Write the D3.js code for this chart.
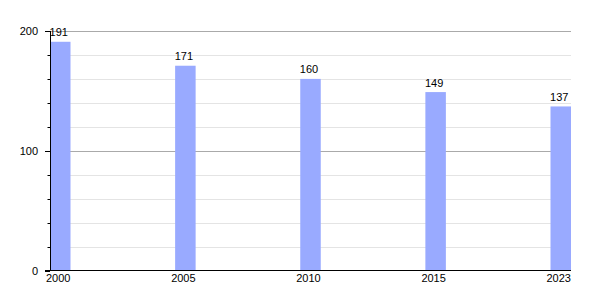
<!DOCTYPE html>
<html><head><meta charset="utf-8">
<script src="https://cdn.jsdelivr.net/npm/d3@7"></script>
<style>body{margin:0;background:#fff;} text{font-family:"Liberation Sans",Arial,sans-serif;}</style>
</head><body><svg id="c" width="600" height="300"></svg>
<script>
const years = ["2000","2005","2010","2015","2023"];
const values = [191,171,160,149,137];
const majorTicks = [0,100,200];
const minorTicks = [20,40,60,80,120,140,160,180];

const svg = d3.select("#c");
const x0 = 50, x1 = 571, yTop = 31, yBot = 270.5;
const y = d3.scaleLinear().domain([0,200]).range([yBot,yTop]);
const barW = 20.5;
const x = d3.scalePoint().domain(years).range([x0, x1 - barW]);

// minor gridlines
svg.append("g").selectAll("line").data(minorTicks).join("line")
  .attr("x1", x0).attr("x2", x1).attr("y1", d=>Math.round(y(d))+0.5).attr("y2", d=>Math.round(y(d))+0.5)
  .attr("stroke","#e4e4e4").attr("stroke-width",1);
// major gridlines
svg.append("g").selectAll("line").data([100,200]).join("line")
  .attr("x1", x0).attr("x2", x1).attr("y1", d=>Math.round(y(d))+0.5).attr("y2", d=>Math.round(y(d))+0.5)
  .attr("stroke","#aaaaaa").attr("stroke-width",1);

// bars
svg.append("g").selectAll("rect").data(values).join("rect")
  .attr("x",(d,i)=>x(years[i])).attr("width",barW)
  .attr("y",d=>y(d)).attr("height",d=>yBot-y(d))
  .attr("fill","#99aaff");

// value labels
svg.append("g").selectAll("text").data(values).join("text")
  .attr("x",(d,i)=>x(years[i])+barW/2-1.5).attr("y",d=>y(d)-5.5)
  .attr("text-anchor","middle").attr("font-size",11).attr("fill","#000").text(d=>d);

// y axis
svg.append("line").attr("x1",x0+0.5).attr("x2",x0+0.5).attr("y1",yTop).attr("y2",yBot).attr("stroke","#000");
svg.append("g").selectAll("line").data(majorTicks).join("line")
  .attr("x1",45).attr("x2",x0).attr("y1",d=>Math.round(y(d))+0.5).attr("y2",d=>Math.round(y(d))+0.5).attr("stroke","#000");
svg.append("g").selectAll("line").data(minorTicks).join("line")
  .attr("x1",47.5).attr("x2",x0).attr("y1",d=>Math.round(y(d))+0.5).attr("y2",d=>Math.round(y(d))+0.5).attr("stroke","#000");
svg.append("g").selectAll("text").data(majorTicks).join("text")
  .attr("x",38).attr("y",d=>y(d)+4).attr("text-anchor","end").attr("font-size",11).text(d=>d);

// x axis
svg.append("line").attr("x1",45).attr("x2",x1).attr("y1",yBot).attr("y2",yBot).attr("stroke","#000");
svg.append("g").selectAll("text").data(years).join("text")
  .attr("x",d=>x(d)+barW/2-2).attr("y",282).attr("text-anchor","middle").attr("font-size",11).text(d=>d);
</script></body></html>
